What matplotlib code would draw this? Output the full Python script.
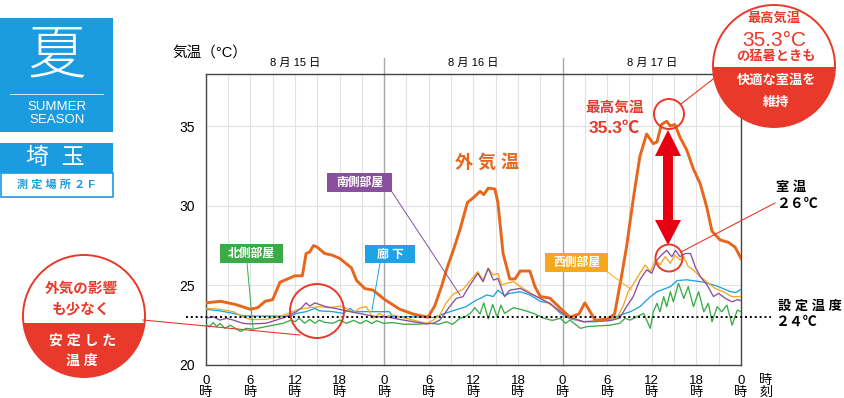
import matplotlib
matplotlib.use("Agg")
import matplotlib.pyplot as plt
from matplotlib.patches import Circle, Rectangle, Polygon

plt.rcParams['font.family'] = ['Liberation Sans', 'Noto Sans CJK JP', 'DejaVu Sans']

# 外気温 (時間, ℃)
OUT_H = [0, 2, 4, 6, 7, 8, 9, 10, 11, 12, 13, 13.5, 14, 14.5, 15, 16, 17, 18, 19.6, 20.3,
         21.4, 22.5, 24.1, 26.1, 27.9, 29.9, 30.8, 31.7, 32.4, 33.3, 34.2, 35.2, 36, 36.9,
         37.4, 38, 38.9, 39.3, 40, 40.9, 41.6, 42.3, 43.6, 44.3, 45, 46.3, 47.6, 49, 50.2,
         51, 51.7, 52.4, 54.1, 55, 55.9, 56.6, 57.5, 58.4, 59.3, 60.2, 60.7, 61.3, 62, 62.5,
         63.1, 63.8, 64.7, 65.6, 66.5, 67.4, 68.1, 69.2, 70.3, 71.2, 72]
OUT_T = [23.9, 24.0, 23.8, 23.5, 23.6, 24.0, 24.1, 25.2, 25.4, 25.6, 25.6, 27.0, 27.1, 27.5, 27.4, 27.0, 26.9, 26.7, 26.1, 25.3,
         24.8, 24.7, 24.1, 23.5, 23.2, 23.0, 23.7, 24.9, 26.0, 27.2, 28.5, 30.2, 30.5, 30.9,
         30.7, 31.1, 31.05, 30.2, 27.0, 25.4, 25.4, 25.9, 25.9, 24.9, 24.3, 24.2, 23.6, 23.0, 23.2,
         23.9, 23.35, 22.8, 22.9, 23.2, 25.5, 27.4, 30.4, 33.1, 34.5, 33.9, 34.0, 35.1, 35.3, 35.0,
         35.1, 34.3, 33.5, 32.3, 31.4, 29.9, 28.4, 27.85, 27.7, 27.4, 26.7]

# 南側部屋
SOUTH_H = [0, 1, 1.9, 2.8, 3.7, 5, 6, 8.1, 9.5, 10.8, 12.2, 12.9, 13.5, 14, 14.7, 15.3, 16.2, 18,
           19.4, 21.1, 22.9, 24.3, 26.1, 27.9, 29.7, 30.6, 31.5, 32.8, 33.7, 34.6, 35.5, 36.6,
           37.3, 38, 38.7, 39.3, 40.2, 40.9, 42.3, 43.6, 45, 46.3, 47.7, 49, 50.8, 52.6, 54.4,
           55.7, 56.6, 57.5, 58.4, 59.3, 60, 60.7, 61.3, 62, 62.7, 63.2, 63.8, 64.5, 65.2, 65.9,
           66.6, 67.4, 68.3, 69, 69.9, 70.8, 71.5, 72]
SOUTH_T = [22.93, 23.03, 22.82, 22.93, 22.82, 22.62, 22.58, 22.62, 22.82, 23.03, 23.35, 23.6, 23.9, 23.7, 23.9, 23.8, 23.66, 23.5,
           23.35, 23.2, 23.03, 23.03, 22.86, 22.72, 22.58, 22.62, 22.82, 23.66, 24.18, 24.29, 25.0, 25.75,
           25.23, 26.07, 25.33, 25.44, 24.29, 24.7, 24.81, 24.5, 24.18, 23.87, 23.35, 23.0, 22.72, 22.75, 22.78,
           22.95, 23.66, 24.29, 25.34, 25.97, 25.76, 26.6, 26.9, 27.2, 26.8, 27.2, 26.8, 27.0, 27.0, 26.1,
           25.5, 25.05, 24.3, 24.5, 24.18, 23.97, 24.1, 24.05]

# 西側部屋
WEST_H = [0, 1.9, 3.7, 5, 6, 8.1, 9.9, 11.7, 12.6, 14, 15.3, 16.6, 18, 18.9, 19.9, 20.8, 21.6, 22.1,
          22.5, 23.4, 24.1, 25.2, 26.1, 27.9, 29.7, 30.6, 31.5, 32.3, 33.3, 34.6, 35.5, 36.6, 37.3,
          38, 38.7, 39.3, 39.8, 40.5, 41.4, 42.7, 44.1, 45.4, 46.8, 48.1, 49, 50.8, 53.5, 55.3,
          56.2, 56.8, 57.3, 58.4, 59.1, 59.8, 60.5, 61.1, 61.8, 62.5, 63.1, 63.8, 64.3, 64.9, 65.6,
          66.5, 67.4, 68.5, 69.6, 70.8, 72]
WEST_T = [23.56, 23.5, 23.35, 23.03, 22.86, 22.86, 23.03, 23.35, 23.5, 23.6, 23.66, 23.6, 23.7, 23.56, 23.28, 23.6, 23.66, 23.28,
          22.93, 23.24, 23.03, 23.14, 23.03, 22.82, 22.62, 22.82, 23.14, 23.87, 24.45, 24.75, 25.25, 25.86, 25.33,
          26.07, 25.65, 25.75, 25.02, 25.13, 25.23, 24.81, 24.4, 24.08, 23.66, 23.2, 22.95, 22.72, 22.78, 22.93,
          23.76, 24.6, 24.92, 25.76, 26.28, 25.86, 26.6, 26.28, 26.8, 26.39, 26.9, 26.6, 26.8, 26.18, 25.97,
          25.55, 25.23, 24.81, 24.6, 24.29, 24.3]

# 廊下
HALL_H = [0, 1.9, 3.7, 5, 6, 11.5, 12.2, 13.5, 14.7, 15.3, 17.1, 18.5, 19.4, 20, 21.6, 24.7, 25.2,
          27, 29.7, 30.6, 31.3, 33.2, 35, 36.4, 36.9, 37.8, 38.7, 39.3, 40.2, 40.9, 42.3, 43.6,
          45, 46.3, 47.7, 49, 50.8, 52.6, 54.4, 55.7, 57.1, 58.4, 59.8, 60.7, 62.5, 63.4, 64.7,
          67, 68.8, 70.6, 71.3, 72]
HALL_T = [23.5, 23.4, 23.24, 23.1, 23.07, 23.07, 23.24, 23.35, 23.55, 23.4, 23.35, 23.24, 23.55, 23.35, 23.35, 23.35, 23.03,
          23.03, 23.0, 22.98, 23.1, 23.4, 23.66, 24.08, 24.18, 24.4, 24.3, 24.7, 24.35, 24.5, 24.6, 24.4,
          24.0, 23.87, 23.25, 22.9, 22.72, 22.72, 22.87, 23.13, 23.34, 23.66, 24.29, 24.6, 24.92, 25.3, 25.35,
          25.2, 24.95, 24.6, 24.55, 24.75]

# 北側部屋
NORTH_H = [0, 0.5, 1, 1.5, 1.9, 2.6, 3.3, 4, 4.7, 5.4, 6.4, 8.1, 10.4, 11.5, 12, 12.6, 13.3, 14,
           14.7, 15.3, 16, 17.1, 18, 18.9, 19.9, 20.8, 21.6, 22.3, 23, 23.9, 25.2, 26.6, 28.4,
           30.2, 31.3, 32.4, 33.2, 34.2, 34.9, 35.6, 36.2, 36.9, 37.4, 38, 38.6, 39.2, 39.7, 40.2,
           41.4, 42.7, 44.1, 45.4, 46.6, 47.7, 48.4, 49, 50.4, 51.3, 52.6, 54.4, 55.7, 56.4, 57.1,
           58, 58.9, 59.8, 60.2, 60.7, 61.1, 61.6, 62, 62.5, 62.9, 63.6, 64.3, 64.9, 65.6, 66.3,
           67, 67.6, 68.1, 68.8, 69.4, 70.1, 70.8, 71.5, 72]
NORTH_T = [22.55, 22.41, 22.66, 22.41, 22.62, 22.3, 22.5, 22.3, 22.1, 22.3, 22.25, 22.41, 22.62, 22.82, 22.72, 22.93, 22.62, 22.86,
           22.62, 22.82, 22.68, 22.62, 22.82, 22.62, 22.8, 22.6, 22.8, 22.6, 22.78, 22.62, 22.66, 22.56, 22.56,
           22.62, 22.56, 22.72, 22.55, 22.93, 23.03, 23.24, 23.6, 23.2, 23.9, 22.9, 23.8, 23.0, 23.76, 23.24,
           23.6, 23.45, 23.24, 22.95, 22.8, 22.93, 22.62, 22.82, 22.3, 22.41, 22.45, 22.5, 22.62, 22.93, 22.82,
           23.03, 23.24, 22.3, 23.34, 23.87, 23.34, 24.29, 23.66, 24.6, 23.97, 25.13, 24.18, 24.92, 23.66, 24.6,
           23.34, 23.87, 22.72, 23.66, 23.34, 23.76, 22.5, 23.45, 23.34]

SETPOINT = 23.03
DAYS = ["8 月 15 日", "8 月 16 日", "8 月 17 日"]
XTICKS = list(range(0, 73, 6))
YTICKS = [20, 25, 30, 35]

RED = '#e8392a'
BLUE_BOX = '#1b9be0'
C_OUT = '#e8661c'
C_SOUTH = '#8a4f9e'
C_WEST = '#f5a81c'
C_HALL = '#1ea3e3'
C_NORTH = '#3aab47'

W, H = 844, 398
fig = plt.figure(figsize=(W / 100, H / 100), dpi=100)

# メインのグラフ (ピクセル位置で配置)
L, R, T, B = 205.7, 741, 74, 365
ax = fig.add_axes([L / W, 1 - B / H, (R - L) / W, (B - T) / H])
ax.set_xlim(0, 72)
ax.set_ylim(20, 38.27)

ax.plot(NORTH_H, NORTH_T, color=C_NORTH, lw=0.95, zorder=3)
ax.plot(HALL_H, HALL_T, color=C_HALL, lw=0.95, zorder=3)
ax.plot(WEST_H, WEST_T, color=C_WEST, lw=0.95, zorder=4)
ax.plot(SOUTH_H, SOUTH_T, color=C_SOUTH, lw=0.95, zorder=4)
ax.plot(OUT_H, OUT_T, color=C_OUT, lw=2.1, zorder=5)

ax.plot([-2.6, 76.0], [SETPOINT, SETPOINT], color='black', lw=1.4,
        linestyle=(0, (1, 1.5)), clip_on=False, zorder=6)

ax.set_xticks(XTICKS)
ax.set_xticklabels([f"{h % 24}\n時" for h in XTICKS], fontsize=9.5, linespacing=1.0)
ax.set_xticks(range(0, 73, 3), minor=True)
ax.set_yticks(YTICKS)
ax.set_yticklabels([str(v) for v in YTICKS], fontsize=10)
ax.tick_params(which='both', length=0)
ax.tick_params(axis='x', pad=7)
ax.tick_params(axis='y', pad=8)
ax.xaxis.grid(True, which='minor', color='#e2e2e2', lw=0.8)
ax.xaxis.grid(True, which='major', color='#e2e2e2', lw=0.8)
ax.yaxis.grid(True, color='#e2e2e2', lw=0.8)
ax.set_axisbelow(True)
for s in ax.spines.values():
    s.set_color('#444444')
    s.set_linewidth(1.0)

for d in (24, 48):
    ax.axvline(d, ymin=0, ymax=1.055, color='#a8a8a8', lw=1.0, clip_on=False, zorder=2)
for i, lab in enumerate(DAYS):
    ax.text(12 + 24 * i, 1.038, lab, transform=ax.get_xaxis_transform(),
            ha='center', va='center', fontsize=8)

# 注記用のオーバーレイ (ピクセル座標, 上が0)
ov = fig.add_axes([0, 0, 1, 1], zorder=10)
ov.set_xlim(0, W)
ov.set_ylim(H, 0)
ov.axis('off')


def txt(x, y, s, **kw):
    kw.setdefault('ha', 'center')
    kw.setdefault('va', 'center')
    ov.text(x, y, s, **kw)


txt(210, 53, "気温（°C）", fontsize=10.5)
txt(766, 387, "時\n刻", fontsize=9.5, linespacing=1.0)

# 左上の季節ボックス
ov.add_patch(Rectangle((0, 18), 113, 114, color=BLUE_BOX, lw=0))
txt(57, 57, "夏", color='white', fontsize=42, fontweight='light')
ov.plot([10, 103], [94, 94], color='white', lw=0.7, alpha=0.8)
txt(57, 107, "SUMMER", color='white', fontsize=9.5)
txt(57, 120, "SEASON", color='white', fontsize=9.5)
ov.add_patch(Rectangle((0, 143), 113, 30, color=BLUE_BOX, lw=0))
txt(55, 157, "埼  玉", color='white', fontsize=16.5)
ov.add_patch(Rectangle((0.5, 173), 112, 23.5, facecolor='white', edgecolor=BLUE_BOX, lw=1.2))
txt(56, 185, "測 定 場 所 ２ F", color=BLUE_BOX, fontsize=8, fontweight='bold')


# 系列ラベル
def label_box(x0, y0, x1, y1, s, color, line):
    ov.add_patch(Rectangle((x0, y0), x1 - x0, y1 - y0, color=color, lw=0))
    txt((x0 + x1) / 2, (y0 + y1) / 2 + 0.5, s, color='white', fontsize=8.5, fontweight='bold')
    ov.plot(line[0], line[1], color=color, lw=0.7)


label_box(220, 244, 283, 263, "北側部屋", C_NORTH, ([247, 253], [263, 328]))
label_box(365, 245, 415, 263, "廊 下", C_HALL, ([380, 372], [263, 310]))
label_box(327, 173, 392, 192, "南側部屋", C_SOUTH, ([392, 460], [192, 295]))
label_box(545, 253, 608, 272, "西側部屋", C_WEST, ([606, 632], [271, 290]))

txt(487, 163, "外 気 温", color=C_OUT, fontsize=13, fontweight='bold')
txt(615, 108, "最高気温", color=RED, fontsize=10.5, fontweight='bold')
txt(614, 128, "35.3℃", color=RED, fontsize=12.5, fontweight='bold')

txt(791, 188, "室 温", fontsize=9.5, fontweight='bold')
txt(797, 204, "２６℃", fontsize=10, fontweight='bold')
txt(810, 307, "設 定 温 度", fontsize=9.5, fontweight='bold')
txt(796, 322, "２４℃", fontsize=10, fontweight='bold')

# 赤い両矢印
ov.add_patch(Polygon([(668, 130), (681, 156), (673, 156), (673, 220), (681, 220), (668, 245),
                      (655, 220), (663, 220), (663, 156), (655, 156)],
                     closed=True, color='#e60012', lw=0))

# 丸囲み
for cx, cy, r in [(669, 114, 15), (669, 258, 13.5), (317, 311, 27)]:
    ov.add_patch(Circle((cx, cy), r, fill=False, edgecolor=RED, lw=1.4))
ov.plot([681, 717], [104, 76], color=RED, lw=0.8)
ov.plot([681, 775], [252, 203], color=RED, lw=0.8)
ov.plot([143, 300], [320, 335], color=RED, lw=0.8)


def split_circle(cx, cy, r, ycut):
    c = Circle((cx, cy), r, facecolor='white', edgecolor=RED, lw=1.4)
    ov.add_patch(c)
    lower = Rectangle((cx - r - 2, ycut), 2 * r + 4, 2 * r + 4, color=RED, lw=0)
    ov.add_patch(lower)
    lower.set_clip_path(c)


split_circle(774, 66, 61, 67)
txt(774, 19, "最高気温", color=RED, fontsize=9.5, fontweight='bold')
txt(774, 40, "35.3°C", color=RED, fontsize=15)
txt(776, 57, "の猛暑ときも", color=RED, fontsize=9.5, fontweight='bold')
txt(777, 81, "快適な室温を", color='white', fontsize=9.5, fontweight='bold')
txt(776, 103, "維持", color='white', fontsize=9.5, fontweight='bold')

split_circle(84, 316, 61, 323)
txt(81, 289, "外気の影響", color=RED, fontsize=10.5, fontweight='bold')
txt(81, 310, "も少なく", color=RED, fontsize=10.5, fontweight='bold')
txt(83, 341, "安 定 し た", color='white', fontsize=10, fontweight='bold')
txt(82, 361, "温 度", color='white', fontsize=10, fontweight='bold')

fig.savefig("out.png", dpi=100)
